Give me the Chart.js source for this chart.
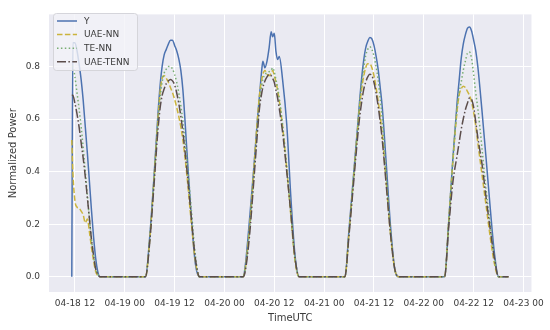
<!DOCTYPE html>
<html>
<head>
<meta charset="utf-8">
<script src="https://cdn.jsdelivr.net/npm/chart.js@4.4.1/dist/chart.umd.min.js"></script>
<style>
  html, body { margin: 0; padding: 0; background: #ffffff; }
  #wrap { width: 550px; height: 330px; position: relative; }
</style>
</head>
<body>
<div id="wrap"><canvas id="c" width="550" height="330"></canvas></div>
<script>
// Time axis: hours since 2023-04-18 00:00 UTC
const hours = [
  11.25, 11.5, 12, 12.5, 13, 13.5, 14, 14.5, 15, 15.5, 16, 16.5, 17, 17.5, 18,
  29, 30, 31, 32, 32.5, 33, 33.5, 34, 34.5, 35, 35.5, 36, 36.5, 37, 37.5, 38, 39, 40, 41, 42,
  52.5, 53, 54, 55, 56, 56.5, 57, 57.25, 57.75, 58.25, 58.75, 59.25, 59.6, 60, 60.4, 60.8, 61.2, 62, 63, 64, 65, 66,
  77, 78, 79, 80, 80.5, 81, 81.5, 82, 82.5, 83, 83.5, 84, 84.5, 85, 85.5, 86, 87, 88, 89, 90,
  101, 102, 103, 104, 104.5, 105, 105.5, 106, 106.5, 107, 107.5, 108, 108.5, 109, 109.5, 110, 111, 112, 113, 114,
  116.4
];

const seriesY = [
  0, 0.89, 0.89, 0.86, 0.81, 0.75, 0.67, 0.57, 0.47, 0.36, 0.25, 0.15, 0.07, 0.02, 0,
  0, 0.15, 0.37, 0.62, 0.725, 0.80, 0.845, 0.865, 0.885, 0.90, 0.90, 0.88, 0.86, 0.83, 0.785, 0.71, 0.47, 0.23, 0.05, 0,
  0, 0.04, 0.21, 0.40, 0.61, 0.70, 0.79, 0.82, 0.795, 0.82, 0.87, 0.932, 0.913, 0.926, 0.857, 0.826, 0.838, 0.75, 0.58, 0.30, 0.08, 0,
  0, 0.18, 0.37, 0.56, 0.66, 0.75, 0.82, 0.87, 0.895, 0.91, 0.905, 0.88, 0.84, 0.79, 0.72, 0.645, 0.42, 0.19, 0.03, 0,
  0, 0.21, 0.45, 0.66, 0.745, 0.83, 0.885, 0.92, 0.945, 0.95, 0.935, 0.90, 0.86, 0.80, 0.72, 0.633, 0.45, 0.26, 0.09, 0,
  0
];

const seriesUAENN = [
  0.52, 0.40, 0.29, 0.265, 0.26, 0.25, 0.235, 0.205, 0.22, 0.17, 0.11, 0.06, 0.02, 0.005, 0,
  0, 0.14, 0.36, 0.60, 0.70, 0.755, 0.765, 0.755, 0.74, 0.72, 0.70, 0.675, 0.645, 0.61, 0.57, 0.52, 0.38, 0.21, 0.06, 0,
  0, 0.03, 0.18, 0.39, 0.61, 0.70, 0.75, 0.77, 0.785, 0.77, 0.765, 0.775, 0.785, 0.765, 0.74, 0.71, 0.67, 0.57, 0.41, 0.23, 0.06, 0,
  0, 0.17, 0.36, 0.55, 0.64, 0.71, 0.76, 0.795, 0.81, 0.81, 0.795, 0.765, 0.72, 0.67, 0.61, 0.54, 0.35, 0.16, 0.03, 0,
  0, 0.21, 0.44, 0.63, 0.69, 0.715, 0.725, 0.72, 0.705, 0.69, 0.665, 0.625, 0.575, 0.51, 0.45, 0.39, 0.27, 0.15, 0.05, 0,
  0
];

const seriesTENN = [
  0.80, 0.80, 0.76, 0.70, 0.64, 0.57, 0.49, 0.40, 0.31, 0.22, 0.14, 0.08, 0.03, 0.01, 0,
  0, 0.14, 0.36, 0.59, 0.68, 0.74, 0.775, 0.79, 0.80, 0.80, 0.79, 0.77, 0.74, 0.70, 0.65, 0.59, 0.44, 0.26, 0.08, 0,
  0, 0.03, 0.17, 0.37, 0.58, 0.67, 0.73, 0.75, 0.77, 0.775, 0.78, 0.785, 0.795, 0.78, 0.75, 0.72, 0.68, 0.58, 0.42, 0.24, 0.07, 0,
  0, 0.17, 0.36, 0.55, 0.65, 0.73, 0.79, 0.84, 0.865, 0.875, 0.865, 0.84, 0.80, 0.75, 0.68, 0.60, 0.38, 0.17, 0.03, 0,
  0, 0.21, 0.44, 0.64, 0.70, 0.74, 0.785, 0.82, 0.85, 0.855, 0.83, 0.77, 0.70, 0.64, 0.57, 0.49, 0.33, 0.20, 0.07, 0,
  0
];

const seriesUAETENN = [
  0.69, 0.69, 0.66, 0.62, 0.57, 0.51, 0.45, 0.38, 0.30, 0.22, 0.14, 0.08, 0.03, 0.01, 0,
  0, 0.13, 0.34, 0.56, 0.64, 0.69, 0.715, 0.735, 0.745, 0.75, 0.745, 0.73, 0.70, 0.66, 0.61, 0.55, 0.40, 0.23, 0.07, 0,
  0, 0.02, 0.15, 0.35, 0.56, 0.65, 0.70, 0.72, 0.745, 0.76, 0.77, 0.765, 0.755, 0.74, 0.71, 0.68, 0.64, 0.55, 0.40, 0.24, 0.07, 0,
  0, 0.16, 0.34, 0.52, 0.60, 0.66, 0.71, 0.74, 0.76, 0.77, 0.765, 0.74, 0.70, 0.65, 0.59, 0.52, 0.34, 0.16, 0.03, 0,
  0, 0.19, 0.36, 0.46, 0.51, 0.56, 0.60, 0.635, 0.66, 0.68, 0.675, 0.645, 0.59, 0.53, 0.48, 0.43, 0.30, 0.18, 0.07, 0,
  0
];

const seriesNames = ['Y', 'UAE-NN', 'TE-NN', 'UAE-TENN'];

const xTickHours = [12, 24, 36, 48, 60, 72, 84, 96, 108, 120];
const xTickLabels = ['04-18 12', '04-19 00', '04-19 12', '04-20 00', '04-20 12',
                     '04-21 00', '04-21 12', '04-22 00', '04-22 12', '04-23 00'];
const yTickValues = [0.0, 0.2, 0.4, 0.6, 0.8];

const FONT = 'DejaVu Sans';
const TEXT = '#3a3a3a';

function pts(arr) { return hours.map((h, i) => ({ x: h, y: arr[i] })); }

const styles = [
  { color: '#4c72b0', dash: [], order: 4 },
  { color: '#cbb43c', dash: [5.5, 2.4], order: 3 },
  { color: '#78ad72', dash: [1.5, 2.4], order: 2 },
  { color: '#5b4d4b', dash: [9, 2.4, 1.5, 2.4], order: 1 }
];
const allSeries = [seriesY, seriesUAENN, seriesTENN, seriesUAETENN];

const datasets = allSeries.map((s, i) => ({
  label: seriesNames[i],
  data: pts(s),
  borderColor: styles[i].color,
  borderDash: styles[i].dash,
  borderWidth: 1.5,
  pointRadius: 0,
  fill: false,
  cubicInterpolationMode: 'monotone',
  order: styles[i].order
}));

const bgPlugin = {
  id: 'bg',
  beforeDraw(chart) {
    const { ctx, chartArea: a } = chart;
    ctx.save();
    ctx.fillStyle = '#eaeaf2';
    ctx.fillRect(a.left, a.top, a.right - a.left, a.bottom - a.top);
    ctx.restore();
  }
};

const legendPlugin = {
  id: 'innerLegend',
  afterDraw(chart) {
    const ctx = chart.ctx;
    const x0 = 53, y0 = 13, w = 84, h = 57;
    ctx.save();
    ctx.beginPath();
    if (ctx.roundRect) ctx.roundRect(x0 + 0.5, y0 + 0.5, w, h, 3); else ctx.rect(x0 + 0.5, y0 + 0.5, w, h);
    ctx.fillStyle = 'rgba(242,242,247,0.8)';
    ctx.fill();
    ctx.strokeStyle = 'rgba(210,210,215,0.9)';
    ctx.lineWidth = 1;
    ctx.stroke();
    ctx.font = '9px "' + FONT + '"';
    ctx.textBaseline = 'middle';
    ctx.fillStyle = TEXT;
    chart.data.datasets.forEach((ds, i) => {
      const yy = 21 + i * 13.6;
      ctx.beginPath();
      ctx.setLineDash(ds.borderDash || []);
      ctx.strokeStyle = ds.borderColor;
      ctx.lineWidth = 1.5;
      ctx.moveTo(57, yy);
      ctx.lineTo(77, yy);
      ctx.stroke();
      ctx.setLineDash([]);
      ctx.fillStyle = TEXT;
      ctx.fillText(ds.label, 84, yy + 0.5);
    });
    ctx.restore();
  }
};

new Chart(document.getElementById('c'), {
  type: 'line',
  data: { datasets },
  plugins: [bgPlugin, legendPlugin],
  options: {
    responsive: false,
    devicePixelRatio: 1,
    animation: false,
    layout: { padding: { top: 9, right: 17, left: 0, bottom: 0 } },
    plugins: { legend: { display: false }, tooltip: { enabled: false } },
    scales: {
      x: {
        type: 'linear',
        min: 5.76,
        max: 121.92,
        afterBuildTicks(scale) { scale.ticks = xTickHours.map(v => ({ value: v })); },
        afterFit(scale) { scale.height = 38; },
        border: { display: false },
        grid: { color: '#ffffff', lineWidth: 1, drawTicks: false },
        ticks: {
          autoSkip: false, maxRotation: 0, minRotation: 0, padding: 6,
          color: TEXT, font: { family: FONT, size: 9 },
          callback(v) { const i = xTickHours.indexOf(v); return i >= 0 ? xTickLabels[i] : ''; }
        },
        title: { display: true, text: 'TimeUTC', color: TEXT, font: { family: FONT, size: 10 }, padding: { top: 0, bottom: 6 } }
      },
      y: {
        type: 'linear',
        min: -0.058,
        max: 0.998,
        afterBuildTicks(scale) { scale.ticks = yTickValues.map(v => ({ value: v })); },
        afterFit(scale) { scale.width = 49; },
        border: { display: false },
        grid: { color: '#ffffff', lineWidth: 1, drawTicks: false },
        ticks: {
          padding: 9, color: TEXT, font: { family: FONT, size: 9 },
          callback(v) { return Number(v).toFixed(1); }
        },
        title: { display: true, text: 'Normalized Power', color: TEXT, font: { family: FONT, size: 10 }, padding: { top: 7, bottom: 0 } }
      }
    }
  }
});
</script>
</body>
</html>
